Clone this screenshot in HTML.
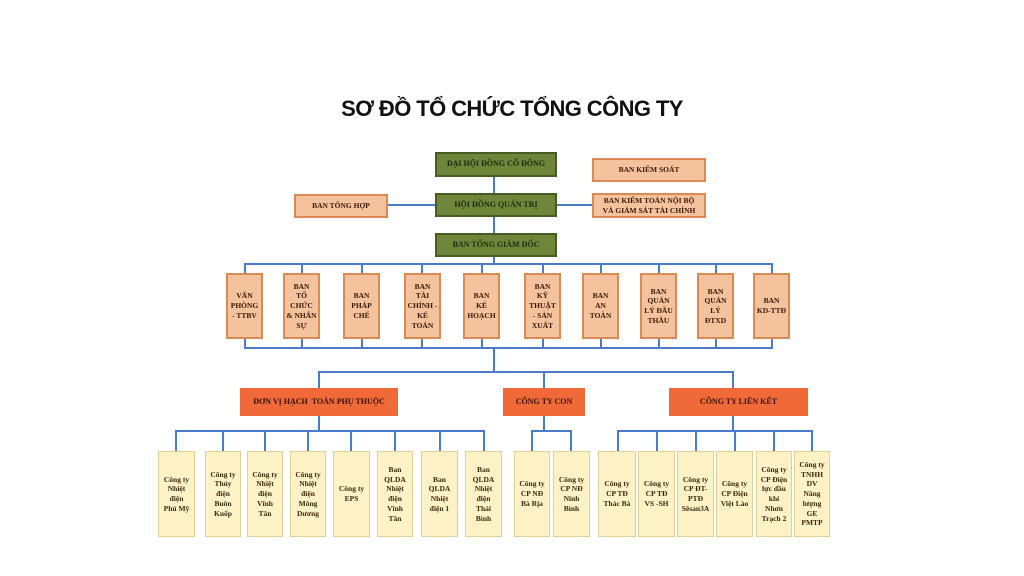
<!DOCTYPE html>
<html><head><meta charset="utf-8">
<style>
body{margin:0;width:1024px;height:576px;background:#fff;position:relative;overflow:hidden;font-family:"Liberation Serif",serif;}
.b{position:absolute;display:flex;align-items:center;justify-content:center;text-align:center;font-weight:bold;box-sizing:border-box;line-height:1.3;white-space:nowrap;}
.g{background:#6e853a;border:2px solid #4a5c26;color:#1d2a0c;font-size:8px;}
.o{background:#f4c29c;border:2px solid #d98a55;color:#3a1a08;font-size:7.5px;}
.r{background:#ef6a38;color:#3a1005;font-size:8px;}
.y{background:#fdf1c6;border:1.5px solid #e0cf97;color:#3a2a0c;font-size:7.5px;}
.l{position:absolute;background:#4a7ccb;}
h1{position:absolute;top:96px;left:0;width:1024px;text-align:center;margin:0;font-family:"Liberation Sans",sans-serif;font-size:22px;font-weight:bold;color:#111;letter-spacing:-0.6px}
</style></head><body>
<h1>SƠ ĐỒ TỔ CHỨC TỔNG CÔNG TY</h1>

<div class="l" style="left:493px;top:176px;width:2px;height:89px"></div>
<div class="l" style="left:388px;top:204px;width:47px;height:2px"></div>
<div class="l" style="left:557px;top:204px;width:35px;height:2px"></div>
<div class="l" style="left:244px;top:263px;width:529px;height:2px"></div>
<div class="l" style="left:244px;top:347px;width:529px;height:2px"></div>
<div class="l" style="left:493px;top:347px;width:2px;height:25px"></div>
<div class="l" style="left:318px;top:371px;width:416px;height:2px"></div>
<div class="l" style="left:318px;top:371px;width:2px;height:18px"></div>
<div class="l" style="left:543px;top:371px;width:2px;height:18px"></div>
<div class="l" style="left:732px;top:371px;width:2px;height:18px"></div>
<div class="l" style="left:244px;top:263px;width:2px;height:86px"></div>
<div class="l" style="left:301px;top:263px;width:2px;height:86px"></div>
<div class="l" style="left:361px;top:263px;width:2px;height:86px"></div>
<div class="l" style="left:421px;top:263px;width:2px;height:86px"></div>
<div class="l" style="left:481px;top:263px;width:2px;height:86px"></div>
<div class="l" style="left:542px;top:263px;width:2px;height:86px"></div>
<div class="l" style="left:600px;top:263px;width:2px;height:86px"></div>
<div class="l" style="left:658px;top:263px;width:2px;height:86px"></div>
<div class="l" style="left:715px;top:263px;width:2px;height:86px"></div>
<div class="l" style="left:771px;top:263px;width:2px;height:86px"></div>
<div class="l" style="left:318px;top:416px;width:2px;height:15px"></div>
<div class="l" style="left:175px;top:430px;width:310px;height:2px"></div>
<div class="l" style="left:543px;top:416px;width:2px;height:15px"></div>
<div class="l" style="left:531px;top:430px;width:41px;height:2px"></div>
<div class="l" style="left:732px;top:416px;width:2px;height:15px"></div>
<div class="l" style="left:617px;top:430px;width:196px;height:2px"></div>
<div class="l" style="left:175px;top:430px;width:2px;height:21px"></div>
<div class="l" style="left:222px;top:430px;width:2px;height:21px"></div>
<div class="l" style="left:264px;top:430px;width:2px;height:21px"></div>
<div class="l" style="left:307px;top:430px;width:2px;height:21px"></div>
<div class="l" style="left:350px;top:430px;width:2px;height:21px"></div>
<div class="l" style="left:394px;top:430px;width:2px;height:21px"></div>
<div class="l" style="left:439px;top:430px;width:2px;height:21px"></div>
<div class="l" style="left:483px;top:430px;width:2px;height:21px"></div>
<div class="l" style="left:531px;top:430px;width:2px;height:21px"></div>
<div class="l" style="left:570px;top:430px;width:2px;height:21px"></div>
<div class="l" style="left:617px;top:430px;width:2px;height:21px"></div>
<div class="l" style="left:656px;top:430px;width:2px;height:21px"></div>
<div class="l" style="left:695px;top:430px;width:2px;height:21px"></div>
<div class="l" style="left:734px;top:430px;width:2px;height:21px"></div>
<div class="l" style="left:773px;top:430px;width:2px;height:21px"></div>
<div class="l" style="left:811px;top:430px;width:2px;height:21px"></div>

<div class="b g" style="left:435px;top:152px;width:122px;height:25px">ĐẠI HỘI ĐỒNG CỔ ĐÔNG</div>
<div class="b g" style="left:435px;top:193px;width:122px;height:24px">HỘI ĐỒNG QUẢN TRỊ</div>
<div class="b g" style="left:435px;top:233px;width:122px;height:24px">BAN TỔNG GIÁM ĐỐC</div>
<div class="b o" style="left:592px;top:158px;width:114px;height:24px">BAN KIỂM SOÁT</div>
<div class="b o" style="left:294px;top:194px;width:94px;height:24px">BAN TỔNG HỢP</div>
<div class="b o" style="left:592px;top:193px;width:114px;height:25px">BAN KIỂM TOÁN NỘI BỘ<br>VÀ GIÁM SÁT TÀI CHÍNH</div>

<div class="b o" style="left:226px;top:273px;width:37px;height:66px">VĂN<br>PHÒNG<br>- TTBV</div>
<div class="b o" style="left:283px;top:273px;width:37px;height:66px">BAN<br>TỔ<br>CHỨC<br>&amp; NHÂN<br>SỰ</div>
<div class="b o" style="left:343px;top:273px;width:37px;height:66px">BAN<br>PHÁP<br>CHẾ</div>
<div class="b o" style="left:404px;top:273px;width:37px;height:66px">BAN<br>TÀI<br>CHÍNH -<br>KẾ<br>TOÁN</div>
<div class="b o" style="left:463px;top:273px;width:37px;height:66px">BAN<br>KẾ<br>HOẠCH</div>
<div class="b o" style="left:524px;top:273px;width:37px;height:66px">BAN<br>KỸ<br>THUẬT<br>- SẢN<br>XUẤT</div>
<div class="b o" style="left:582px;top:273px;width:37px;height:66px">BAN<br>AN<br>TOÀN</div>
<div class="b o" style="left:640px;top:273px;width:37px;height:66px">BAN<br>QUẢN<br>LÝ ĐẦU<br>THẦU</div>
<div class="b o" style="left:697px;top:273px;width:37px;height:66px">BAN<br>QUẢN<br>LÝ<br>ĐTXD</div>
<div class="b o" style="left:753px;top:273px;width:37px;height:66px">BAN<br>KD-TTĐ</div>

<div class="b r" style="left:240px;top:388px;width:158px;height:28px">ĐƠN VỊ HẠCH &nbsp;TOÁN PHỤ THUỘC</div>
<div class="b r" style="left:503px;top:388px;width:82px;height:28px">CÔNG TY CON</div>
<div class="b r" style="left:669px;top:388px;width:139px;height:28px">CÔNG TY LIÊN KẾT</div>

<div class="b y" style="left:158px;top:451px;width:37px;height:86px">Công ty<br>Nhiệt<br>điện<br>Phú Mỹ</div>
<div class="b y" style="left:205px;top:451px;width:36px;height:86px">Công ty<br>Thủy<br>điện<br>Buôn<br>Kuốp</div>
<div class="b y" style="left:247px;top:451px;width:36px;height:86px">Công ty<br>Nhiệt<br>điện<br>Vĩnh<br>Tân</div>
<div class="b y" style="left:290px;top:451px;width:36px;height:86px">Công ty<br>Nhiệt<br>điện<br>Mông<br>Dương</div>
<div class="b y" style="left:333px;top:451px;width:37px;height:86px">Công ty<br>EPS</div>
<div class="b y" style="left:377px;top:451px;width:36px;height:86px">Ban<br>QLDA<br>Nhiệt<br>điện<br>Vĩnh<br>Tân</div>
<div class="b y" style="left:421px;top:451px;width:37px;height:86px">Ban<br>QLDA<br>Nhiệt<br>điện 1</div>
<div class="b y" style="left:465px;top:451px;width:37px;height:86px">Ban<br>QLDA<br>Nhiệt<br>điện<br>Thái<br>Bình</div>
<div class="b y" style="left:514px;top:451px;width:36px;height:86px">Công ty<br>CP NĐ<br>Bà Rịa</div>
<div class="b y" style="left:553px;top:451px;width:37px;height:86px">Công ty<br>CP NĐ<br>Ninh<br>Bình</div>
<div class="b y" style="left:598px;top:451px;width:38px;height:86px">Công ty<br>CP TĐ<br>Thác Bà</div>
<div class="b y" style="left:638px;top:451px;width:37px;height:86px">Công ty<br>CP TĐ<br>VS -SH</div>
<div class="b y" style="left:677px;top:451px;width:37px;height:86px">Công ty<br>CP ĐT-<br>PTĐ<br>Sêsan3A</div>
<div class="b y" style="left:716px;top:451px;width:37px;height:86px">Công ty<br>CP Điện<br>Việt Lào</div>
<div class="b y" style="left:756px;top:451px;width:36px;height:86px">Công ty<br>CP Điện<br>lực dầu<br>khí<br>Nhơn<br>Trạch 2</div>
<div class="b y" style="left:794px;top:451px;width:36px;height:86px">Công ty<br>TNHH<br>DV<br>Năng<br>lượng<br>GE<br>PMTP</div>
</body></html>
